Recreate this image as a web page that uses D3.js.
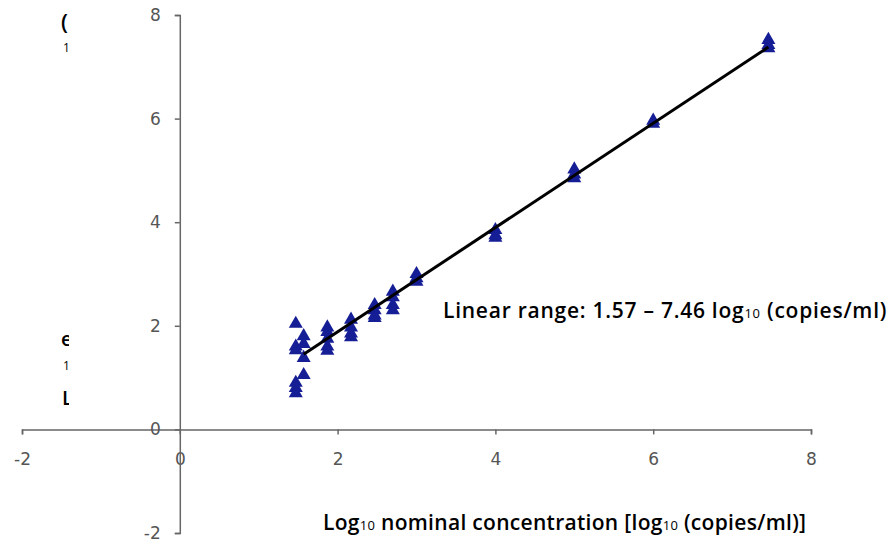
<!DOCTYPE html>
<html>
<head>
<meta charset="utf-8">
<script src="https://cdn.jsdelivr.net/npm/d3@7"></script>
<style>
  body { margin: 0; background: #fff; }
  .tick text { font-family: "DejaVu Sans", sans-serif; font-size: 17px; fill: #555; }
  .lbl { font-family: "Open Sans", sans-serif; font-weight: 600; fill: #000; }
  .sub { font-weight: 400; fill: #000; }
</style>
</head>
<body>
<div id="chart"></div>
<script>
// measured points: nominal log10 vs measured log10
const xVals = [
  1.47, 1.47, 1.47, 1.47, 1.47, 1.47,
  1.57, 1.57, 1.57, 1.57,
  1.87, 1.87, 1.87, 1.87, 1.87,
  2.17, 2.17, 2.17, 2.17,
  2.47, 2.47, 2.47, 2.47,
  2.7, 2.7, 2.7, 2.7,
  3.0, 3.0, 3.0,
  4.0, 4.0, 4.0,
  5.0, 5.0, 5.0,
  6.0, 6.0,
  7.46, 7.46, 7.46
];
const yVals = [
  2.04, 1.6, 1.53, 0.9, 0.8, 0.7,
  1.8, 1.65, 1.38, 1.05,
  1.97, 1.88, 1.75, 1.6, 1.52,
  2.12, 1.97, 1.85, 1.78,
  2.4, 2.3, 2.2, 2.15,
  2.66, 2.55, 2.4, 2.3,
  3.0, 2.92, 2.85,
  3.85, 3.75, 3.7,
  5.02, 4.92, 4.85,
  5.96, 5.9,
  7.52, 7.42, 7.36
];
// regression line endpoints
const fitX = [1.57, 7.46];
const fitY = [1.45, 7.38];
const xTicks = [-2, 0, 2, 4, 6, 8];
const yTicks = [-2, 0, 2, 4, 6, 8];

const width = 893, height = 545;

const svg = d3.select("#chart")
  .append("svg")
  .attr("width", width)
  .attr("height", height);

const x = d3.scaleLinear().domain([-2, 8]).range([22, 811]);
const y = d3.scaleLinear().domain([-2, 8]).range([533, 15]);

// clipped fragments of neighbouring text on the left edge
svg.append("clipPath").attr("id", "leftclip")
  .append("rect").attr("x", 0).attr("y", 0).attr("width", 69).attr("height", height);
const frag = svg.append("g").attr("clip-path", "url(#leftclip)");
frag.append("text").attr("class", "lbl").attr("x", 61).attr("y", 30)
  .style("font-size", "22px").text("(");
frag.append("text").attr("class", "lbl sub").attr("x", 63).attr("y", 52)
  .style("font-size", "12px").text("1");
frag.append("text").attr("class", "lbl").attr("x", 61).attr("y", 346)
  .style("font-size", "20px").text("e");
frag.append("text").attr("class", "lbl sub").attr("x", 63).attr("y", 370)
  .style("font-size", "12px").text("1");
frag.append("text").attr("class", "lbl").attr("x", 62).attr("y", 405)
  .style("font-size", "20px").text("L");

// axes crossing at origin
const fmt = d => String(d);
const xAxis = svg.append("g")
  .attr("transform", `translate(0,${y(0)})`)
  .call(d3.axisBottom(x).tickValues(xTicks).tickFormat(fmt).tickSize(5).tickPadding(19));
const yAxis = svg.append("g")
  .attr("transform", `translate(${x(0)},0)`)
  .call(d3.axisLeft(y).tickValues(yTicks).tickFormat(fmt).tickSize(5).tickPadding(14));

[xAxis, yAxis].forEach(a => {
  a.select(".domain").attr("stroke", "#666").attr("stroke-width", 1.5);
  a.selectAll(".tick line").attr("stroke", "#666").attr("stroke-width", 1.5);
});

// points
const pts = xVals.map((v, i) => ({ x: v, y: yVals[i] }));
svg.append("g")
  .selectAll("path")
  .data(pts)
  .enter()
  .append("path")
  .attr("d", d3.symbol().type(d3.symbolTriangle).size(85))
  .attr("transform", d => `translate(${x(d.x)},${y(d.y)})`)
  .attr("fill", "#161e96");

// fit line
svg.append("line")
  .attr("x1", x(fitX[0])).attr("y1", y(fitY[0]))
  .attr("x2", x(fitX[1])).attr("y2", y(fitY[1]))
  .attr("stroke", "#000")
  .attr("stroke-width", 3);

// annotation
const ann = svg.append("text").attr("class", "lbl")
  .attr("x", 443).attr("y", 318)
  .style("font-size", "21px")
  .style("letter-spacing", "0.75px");
ann.append("tspan").text("Linear range: 1.57 – 7.46 log");
ann.append("tspan").attr("class", "sub").style("font-size", "13px").text("10");
ann.append("tspan").text(" (copies/ml)");

// x axis title
const xt = svg.append("text").attr("class", "lbl")
  .attr("x", 323).attr("y", 530)
  .style("font-size", "21px")
  .style("letter-spacing", "0.3px");
xt.append("tspan").text("Log");
xt.append("tspan").attr("class", "sub").style("font-size", "13px").text("10");
xt.append("tspan").text(" nominal concentration [log");
xt.append("tspan").attr("class", "sub").style("font-size", "13px").text("10");
xt.append("tspan").text(" (copies/ml)]");
</script>
</body>
</html>
